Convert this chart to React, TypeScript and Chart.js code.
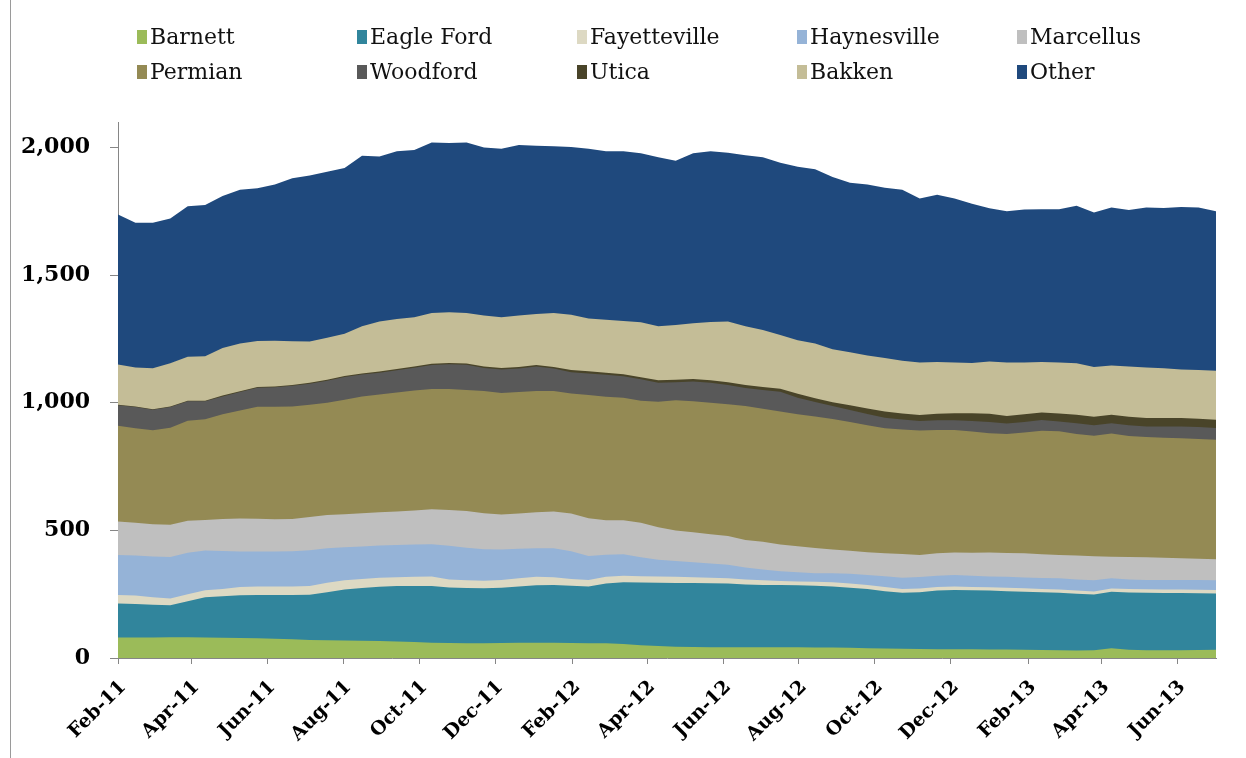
import React, { useEffect, useRef } from "react";
import { Chart, registerables } from "chart.js";

Chart.register(...registerables);

// ---- data (weekly rig data sampled every two weeks, first point 4 Feb 2011) ----
const seriesNames = [
  "Barnett", "Eagle Ford", "Fayetteville", "Haynesville", "Marcellus",
  "Permian", "Woodford", "Utica", "Bakken", "Other",
];

const barnett = [80,80,80,81,81,80,79,78,77,75,73,71,70,69,68,67,65,63,60,59,58,58,59,60,60,60,59,58,58,55,50,47,44,43,42,42,42,42,42,42,41,41,40,38,37,36,35,34,34,34,33,33,32,31,30,29,30,38,32,30,30,30,31,32];
const eagleFord = [134,132,129,126,141,158,163,168,170,172,174,177,188,199,206,212,217,219,222,217,216,215,216,220,225,226,224,222,234,242,246,248,250,251,251,250,246,244,244,243,242,239,235,232,225,220,223,230,232,231,231,229,228,227,226,223,219,222,225,226,225,225,223,221];
const fayetteville = [33,33,29,26,28,27,28,32,33,33,33,34,37,37,36,35,34,36,37,32,31,30,31,32,33,30,27,26,26,25,24,24,24,22,21,20,20,19,16,15,16,17,17,16,16,14,14,14,14,13,13,13,13,12,12,12,12,12,13,13,13,13,13,13];
const haynesville = [157,157,160,163,162,156,149,139,137,137,138,140,135,129,127,127,127,127,127,132,127,123,119,116,112,114,108,94,87,84,75,66,62,59,56,53,47,42,38,36,33,35,38,39,42,44,45,44,45,44,42,43,42,43,44,44,44,40,38,37,38,38,39,39];
const marcellus = [131,128,126,126,126,120,126,130,129,127,127,130,130,129,130,130,131,133,137,140,144,141,137,138,141,144,148,148,135,134,135,127,120,118,115,113,107,108,105,102,99,93,90,89,90,93,87,88,88,90,94,93,95,93,92,94,94,85,88,89,87,85,83,82];
const permian = [375,370,368,380,392,394,410,423,438,440,440,440,440,449,458,461,466,470,471,474,474,479,476,476,475,472,470,482,484,480,478,492,510,513,515,516,525,522,521,517,515,511,505,498,490,488,487,483,480,475,468,467,473,484,484,476,472,483,474,471,470,470,469,468];
const woodford = [80,83,81,81,76,71,70,72,75,77,82,82,86,89,86,86,87,89,94,97,99,90,92,92,96,88,84,85,86,84,84,74,70,77,78,76,71,73,77,65,57,51,47,44,41,39,38,38,38,42,44,41,42,42,39,42,41,40,42,41,44,46,47,46];
const utica = [2,2,2,2,2,2,3,3,3,3,3,4,4,4,4,4,5,5,5,5,5,6,6,6,6,6,8,8,8,8,8,10,10,10,10,10,12,12,12,15,15,15,18,22,25,24,23,26,28,30,32,29,30,30,31,33,33,33,33,33,33,33,32,32];
const bakken = [158,153,160,170,172,174,187,187,180,179,171,162,165,165,185,196,196,193,199,199,198,200,199,202,200,212,217,207,207,208,215,212,215,219,228,238,230,223,210,210,214,208,208,207,209,207,206,203,199,197,205,210,203,198,200,202,195,193,197,198,195,190,191,192];
const other = [588,567,570,567,590,593,595,603,598,612,639,650,650,650,668,647,657,655,668,663,668,658,660,668,659,653,657,665,660,665,663,662,643,666,669,662,670,677,675,680,683,675,664,670,667,670,642,655,642,624,600,592,599,598,600,617,605,619,613,627,628,637,637,625];

const seriesValues = [barnett, eagleFord, fayetteville, haynesville, marcellus, permian, woodford, utica, bakken, other];
const seriesColors = ["#9BBB59", "#31859C", "#DDD9C3", "#95B3D7", "#BFBFBF", "#948A54", "#595959", "#494429", "#C4BD97", "#1F497D"];

const stepDays = 14;
const xTickLabels = ["Feb-11","Apr-11","Jun-11","Aug-11","Oct-11","Dec-11","Feb-12","Apr-12","Jun-12","Aug-12","Oct-12","Dec-12","Feb-13","Apr-13","Jun-13"];
const yTickValues = [0, 500, 1000, 1500, 2000];

// day offsets of the tick dates (same day of month as the first data point)
const startUTC = Date.UTC(2011, 1, 4);
const xTickOffsets = xTickLabels.map((_, k) =>
  Math.round((Date.UTC(2011, 1 + 2 * k, 4) - startUTC) / 86400000)
);

const AXIS_COLOR = "#868686";

const gridLegend = {
  id: "gridLegend",
  afterDraw(chart: any) {
    const ctx = chart.ctx;
    ctx.save();
    ctx.font = '22px "DejaVu Serif", serif';
    ctx.textBaseline = "middle";
    ctx.textAlign = "left";
    chart.data.datasets.forEach((ds: any, i: number) => {
      const col = i % 5;
      const row = Math.floor(i / 5);
      const x = 137 + col * 220;
      const y = 37 + row * 35;
      ctx.fillStyle = ds.backgroundColor;
      ctx.fillRect(x, y - 7, 10, 14);
      ctx.fillStyle = "#111111";
      ctx.fillText(ds.label, x + 13, y + 1);
    });
    ctx.restore();
  },
};

export default function App() {
  const canvasRef = useRef<HTMLCanvasElement | null>(null);

  useEffect(() => {
    if (!canvasRef.current) return;
    const n = barnett.length;
    const datasets = seriesNames.map((name, s) => ({
      label: name,
      data: seriesValues[s].map((v, i) => ({ x: i * stepDays, y: v })),
      backgroundColor: seriesColors[s],
      borderColor: seriesColors[s],
      borderWidth: 0,
      pointRadius: 0,
      pointHoverRadius: 0,
      tension: 0,
      fill: "origin",
    }));

    const chart = new Chart(canvasRef.current, {
      type: "line",
      data: { datasets },
      plugins: [gridLegend],
      options: {
        animation: false,
        responsive: false,
        maintainAspectRatio: false,
        events: [],
        layout: { padding: { left: 0, top: 122, right: 30, bottom: 0 } },
        plugins: {
          legend: { display: false },
          tooltip: { enabled: false },
          title: { display: false },
        },
        scales: {
          x: {
            type: "linear",
            min: 0,
            max: (n - 1) * stepDays,
            afterBuildTicks: (scale: any) => {
              scale.ticks = xTickOffsets.map((v) => ({ value: v }));
            },
            afterFit: (scale: any) => {
              scale.height = 100;
            },
            grid: {
              display: true,
              drawOnChartArea: false,
              drawTicks: true,
              tickLength: 6,
              color: AXIS_COLOR,
            },
            border: { display: true, color: AXIS_COLOR, width: 1 },
            ticks: {
              autoSkip: false,
              maxRotation: 45,
              minRotation: 45,
              padding: 12,
              labelOffset: 5,
              color: "#000000",
              font: { family: '"DejaVu Serif", serif', size: 19, weight: "bold" },
              callback: (_v: any, index: number) => xTickLabels[index],
            },
          },
          y: {
            type: "linear",
            stacked: true,
            min: 0,
            max: 2100,
            afterBuildTicks: (scale: any) => {
              scale.ticks = yTickValues.map((v) => ({ value: v }));
            },
            afterFit: (scale: any) => {
              scale.width = 118;
            },
            grid: {
              display: true,
              drawOnChartArea: false,
              drawTicks: true,
              tickLength: 8,
              color: AXIS_COLOR,
            },
            border: { display: true, color: AXIS_COLOR, width: 1 },
            ticks: {
              padding: 20,
              color: "#000000",
              font: { family: '"DejaVu Serif", serif', size: 22, weight: "bold" },
              callback: (v: any) => Number(v).toLocaleString("en-US"),
            },
          },
        },
      },
    });
    return () => chart.destroy();
  }, []);

  return (
    <div style={{ position: "absolute", left: 0, top: 0, width: 1246, height: 758, background: "#ffffff" }}>
      <div style={{ position: "absolute", left: 10, top: 0, width: 1, height: 758, background: "#9a9a9a" }} />
      <canvas ref={canvasRef} width={1246} height={758} style={{ position: "absolute", left: 0, top: 0, width: 1246, height: 758 }} />
    </div>
  );
}
